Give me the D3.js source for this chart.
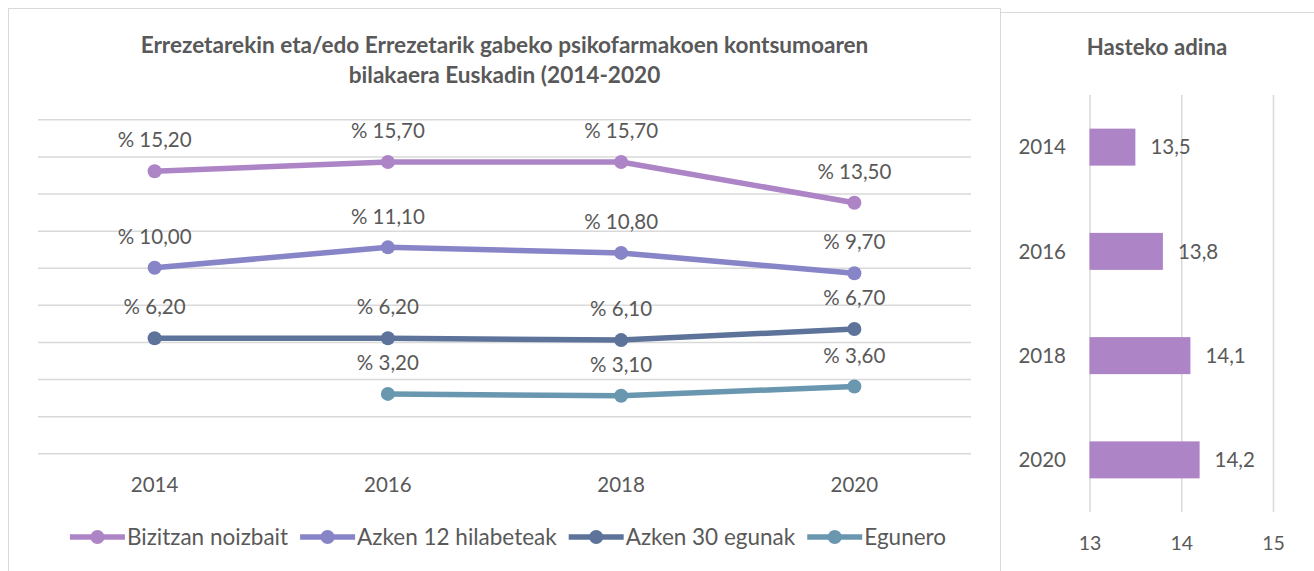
<!DOCTYPE html>
<html><head><meta charset="utf-8">
<script src="https://cdn.jsdelivr.net/npm/d3@7"></script>
<style>body{margin:0;background:#fff;} text{font-family:Lato,"Open Sans",sans-serif;fill:#595959;}</style>
</head><body>
<svg id="c" width="1314" height="571"></svg>
<script>
// ---- data ----
const years = ["2014","2016","2018","2020"];
const seriesNames = ["Bizitzan noizbait","Azken 12 hilabeteak","Azken 30 egunak","Egunero"];
const bizitzan = [15.2, 15.7, 15.7, 13.5];
const azken12 = [10.0, 11.1, 10.8, 9.7];
const azken30 = [6.2, 6.2, 6.1, 6.7];
const egunero = [null, 3.2, 3.1, 3.6];
const seriesColors = ["#ad84c6","#8784c7","#5d739a","#6997af"];
const lineTitle = ["Errezetarekin eta/edo Errezetarik gabeko psikofarmakoen kontsumoaren","bilakaera Euskadin (2014-2020"];
const yTicks = [0,2,4,6,8,10,12,14,16,18];
const barTitle = "Hasteko adina";
const barYears = ["2014","2016","2018","2020"];
const barValues = [13.5, 13.8, 14.1, 14.2];
const barTicks = [13,14,15];

const fmt = v => "% " + v.toFixed(2).replace(".", ",");
const fmt1 = v => v.toFixed(1).replace(".", ",");

const svg = d3.select("#c");
svg.append("rect").attr("width",1314).attr("height",571).attr("fill","#fff");

// panels
svg.append("rect").attr("x",8.5).attr("y",8.5).attr("width",992).attr("height",700)
  .attr("fill","none").attr("stroke","#d9d9d9").attr("stroke-width",1);
svg.append("rect").attr("x",1000.5).attr("y",12.5).attr("width",400).attr("height",700)
  .attr("fill","none").attr("stroke","#d9d9d9").attr("stroke-width",1);

// ---- line chart ----
const L = {left:38, right:971, top:119.3, bottom:453.3};
const x = d3.scaleBand().domain(years).range([L.left, L.right]);
const y = d3.scaleLinear().domain([0,18]).range([L.bottom, L.top]);
const cx = d => x(d) + x.bandwidth()/2;

const grid = svg.append("g").attr("transform",`translate(${L.left},0)`)
  .call(d3.axisLeft(y).tickValues(yTicks).tickSize(-(L.right-L.left)).tickFormat(""));
grid.select(".domain").remove();
grid.selectAll(".tick line").attr("stroke","#d9d9d9").attr("stroke-width",1.5);

svg.append("g").selectAll("text").data(lineTitle).join("text")
  .attr("x",(L.left+L.right)/2).attr("y",(d,i)=>45+i*30).attr("dy","0.35em")
  .attr("text-anchor","middle").attr("font-weight","bold").attr("font-size",22.6)
  .text(d=>d);

const xa = svg.append("g").attr("transform",`translate(0,${L.bottom})`)
  .call(d3.axisBottom(x).tickSize(0).tickPadding(24));
xa.select(".domain").remove();
xa.selectAll("text").attr("font-size",20.5).attr("font-family","Lato").attr("fill","#595959");

const allSeries = [bizitzan, azken12, azken30, egunero];
const line = d3.line().defined(d=>d.v!=null).x(d=>cx(d.y)).y(d=>y(d.v));
allSeries.forEach((vals,si)=>{
  const pts = years.map((yy,i)=>({y:yy, v:vals[i]}));
  const g = svg.append("g");
  g.append("path").datum(pts).attr("d",line).attr("fill","none")
    .attr("stroke",seriesColors[si]).attr("stroke-width",5.5).attr("stroke-linejoin","round");
  const valid = pts.filter(d=>d.v!=null);
  g.selectAll("circle").data(valid).join("circle")
    .attr("cx",d=>cx(d.y)).attr("cy",d=>y(d.v)).attr("r",7).attr("fill",seriesColors[si]);
  g.selectAll("text").data(valid).join("text")
    .attr("x",d=>cx(d.y)).attr("y",d=>y(d.v)-31).attr("dy","0.35em")
    .attr("text-anchor","middle").attr("font-size",20.5).text(d=>fmt(d.v));
});

// legend
const lg = svg.append("g");
const items = seriesNames.map((n,i)=>{
  const g = lg.append("g");
  g.append("line").attr("x1",0).attr("x2",55).attr("y1",0).attr("y2",0)
    .attr("stroke",seriesColors[i]).attr("stroke-width",5.5);
  g.append("circle").attr("cx",27.5).attr("cy",0).attr("r",7).attr("fill",seriesColors[i]);
  const t = g.append("text").attr("x",57).attr("dy","0.35em").attr("font-size",22.5).text(n);
  return {g, w: 57 + t.node().getComputedTextLength()};
});
const gap = 12;
const total = d3.sum(items,d=>d.w) + gap*(items.length-1);
let lx = 508 - total/2;
items.forEach(it=>{ it.g.attr("transform",`translate(${lx},537)`); lx += it.w + gap; });

// ---- bar chart ----
const B = {left:1089.5, right:1273, top:95, bottom:512};
const bx = d3.scaleLinear().domain([13,15]).range([B.left, B.right]);
const by = d3.scaleBand().domain(barYears).range([B.top, B.bottom]).paddingInner(0.645).paddingOuter(0.3225);

svg.append("text").attr("x",1157).attr("y",47).attr("dy","0.35em").attr("text-anchor","middle")
  .attr("font-weight","bold").attr("font-size",22.2).text(barTitle);

const bg = svg.append("g").attr("transform",`translate(0,${B.bottom})`)
  .call(d3.axisBottom(bx).tickValues(barTicks).tickSize(-(B.bottom-B.top)).tickPadding(24).tickFormat(d=>d));
bg.select(".domain").remove();
bg.selectAll(".tick line").attr("stroke","#d9d9d9").attr("stroke-width",1.5);
bg.selectAll("text").attr("font-size",19.5).attr("font-family","Lato").attr("fill","#595959");

svg.append("g").selectAll("rect").data(barValues).join("rect")
  .attr("x",bx(13)).attr("y",(d,i)=>by(barYears[i]))
  .attr("width",d=>bx(d)-bx(13)).attr("height",by.bandwidth()).attr("fill","#ad84c6");

svg.append("g").selectAll("text").data(barYears).join("text")
  .attr("x",1066).attr("y",d=>by(d)+by.bandwidth()/2).attr("dy","0.35em")
  .attr("text-anchor","end").attr("font-size",20.5).text(d=>d);

svg.append("g").selectAll("text").data(barValues).join("text")
  .attr("x",d=>bx(d)+15).attr("y",(d,i)=>by(barYears[i])+by.bandwidth()/2).attr("dy","0.35em")
  .attr("font-size",20.5).text(d=>fmt1(d));
</script>
</body></html>
